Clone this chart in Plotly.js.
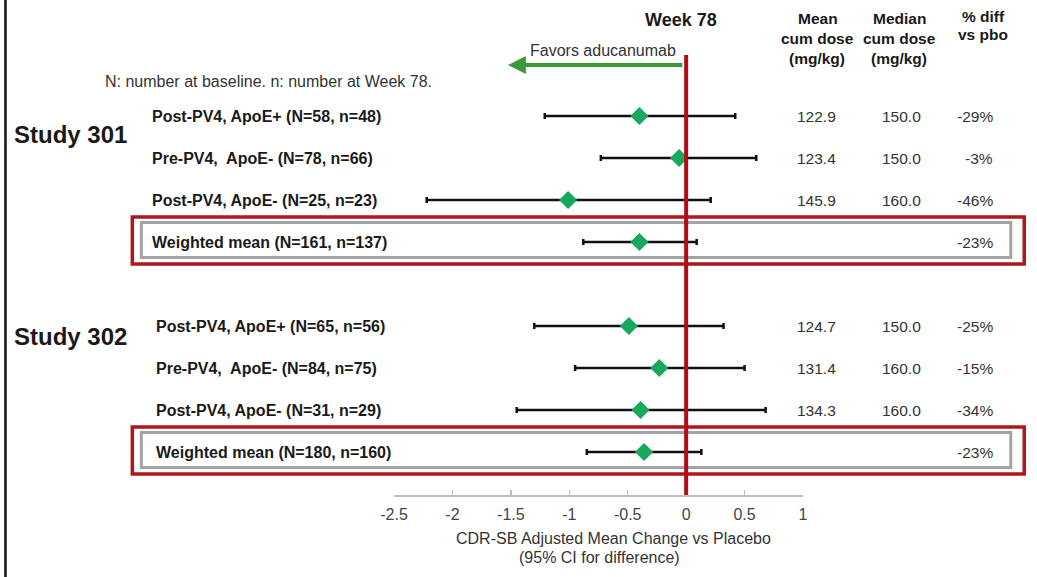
<!DOCTYPE html>
<html>
<head>
<meta charset="utf-8">
<script src="https://cdn.plot.ly/plotly-3.0.1.min.js"></script>
<style>html,body{margin:0;padding:0;background:#fff;}#chart{width:1037px;height:577px;}</style>
</head>
<body>
<div id="chart"></div>
<script>
// ---------------- data ----------------
const studies = ['Study 301', 'Study 302'];
const rowLabels301 = ['Post-PV4, ApoE+ (N=58, n=48)', 'Pre-PV4,\u00a0 ApoE- (N=78, n=66)', 'Post-PV4, ApoE- (N=25, n=23)', 'Weighted mean (N=161, n=137)'];
const rowLabels302 = ['Post-PV4, ApoE+ (N=65, n=56)', 'Pre-PV4,\u00a0 ApoE- (N=84, n=75)', 'Post-PV4, ApoE- (N=31, n=29)', 'Weighted mean (N=180, n=160)'];
const estimate301 = [-0.40, -0.06, -1.01, -0.40];
const estimate302 = [-0.49, -0.23, -0.39, -0.36];
const ciLow301 = [-1.21, -0.73, -2.22, -0.88];
const ciLow302 = [-1.30, -0.95, -1.45, -0.85];
const ciHigh301 = [0.42, 0.60, 0.21, 0.09];
const ciHigh302 = [0.32, 0.50, 0.68, 0.13];
const meanDose301 = ['122.9', '123.4', '145.9', ''];
const meanDose302 = ['124.7', '131.4', '134.3', ''];
const medianDose301 = ['150.0', '150.0', '160.0', ''];
const medianDose302 = ['150.0', '160.0', '160.0', ''];
const pctDiff301 = ['-29%', '-3%', '-46%', '-23%'];
const pctDiff302 = ['-25%', '-15%', '-34%', '-23%'];
const xTickVals = [-2.5, -2, -1.5, -1, -0.5, 0, 0.5, 1];
const xTickText = ['-2.5', '-2', '-1.5', '-1', '-0.5', '0', '0.5', '1'];
const xTitle1 = 'CDR-SB Adjusted Mean Change vs Placebo';
const xTitle2 = '(95% CI for difference)';

// ---------------- layout helpers ----------------
const W = 1037, H = 577;
const L = 394, R = 803.5, T = 56, B = 495;
const px = p => (p - L) / (R - L);
const py = p => (B - p) / (B - T);
const FONT = 'Arial, "Liberation Sans", sans-serif';
const rowStep = 42, row0 = 116;

const groupLabels = [rowLabels301, rowLabels302];
const groupEst = [estimate301, estimate302];
const groupLo = [ciLow301, ciLow302];
const groupHi = [ciHigh301, ciHigh302];
const groupMean = [meanDose301, meanDose302];
const groupMedian = [medianDose301, medianDose302];
const groupPct = [pctDiff301, pctDiff302];
const labelX = [150, 154];

const xs = [], ys = [], ep = [], em = [];
const annotations = [];
const shapes = [];

groupEst.forEach((est, g) => {
  est.forEach((v, i) => {
    const pos = g * 5 + i;
    xs.push(v); ys.push(pos);
    ep.push(groupHi[g][i] - v);
    em.push(v - groupLo[g][i]);
    annotations.push({xref: 'paper', yref: 'y', x: px(labelX[g]), y: pos, xanchor: 'left', yanchor: 'middle',
      text: '<b>' + groupLabels[g][i] + '</b>', showarrow: false, font: {family: FONT, size: 16, color: '#1a1a1a'}});
    if (groupMean[g][i]) annotations.push({xref: 'paper', yref: 'y', x: px(817), y: pos, xanchor: 'center', yanchor: 'middle',
      text: groupMean[g][i], showarrow: false, font: {family: FONT, size: 15.5, color: '#333'}});
    if (groupMedian[g][i]) annotations.push({xref: 'paper', yref: 'y', x: px(902), y: pos, xanchor: 'center', yanchor: 'middle',
      text: groupMedian[g][i], showarrow: false, font: {family: FONT, size: 15.5, color: '#333'}});
    annotations.push({xref: 'paper', yref: 'y', x: px(996), y: pos, xanchor: 'right', yanchor: 'middle',
      text: groupPct[g][i], showarrow: false, font: {family: FONT, size: 15.5, color: '#333'}});
    if (i === est.length - 1) {
      const yc = row0 + pos * rowStep;
      shapes.push({type: 'rect', xref: 'paper', yref: 'paper', x0: px(132), x1: px(1025), y0: py(yc - 25), y1: py(yc + 22),
        line: {color: '#b0161b', width: 3.5}, fillcolor: 'rgba(0,0,0,0)'});
      shapes.push({type: 'rect', xref: 'paper', yref: 'paper', x0: px(141), x1: px(1011.5), y0: py(yc - 19.5), y1: py(yc + 15.5),
        line: {color: '#a3a3a3', width: 3}, fillcolor: 'rgba(0,0,0,0)'});
    }
  });
  annotations.push({xref: 'paper', yref: 'y', x: px(12), y: g * 5 + (g === 0 ? 0.45 : 0.24), xanchor: 'left', yanchor: 'middle',
    text: '<b>' + studies[g] + '</b>', showarrow: false, font: {family: FONT, size: 24, color: '#1a1a1a'}});
});

// header texts
const hdr = (text, x, y, size, anchor) => annotations.push({xref: 'paper', yref: 'paper', x: px(x), y: py(y),
  xanchor: anchor || 'center', yanchor: 'middle', text: text, showarrow: false, font: {family: FONT, size: size, color: '#1a1a1a'}});
hdr('<b>Week 78</b>', 681, 20, 18);
hdr('<b>Mean</b>', 819, 18, 15.5);
hdr('<b>cum dose</b>', 818, 38, 15.5);
hdr('<b>(mg/kg)</b>', 818, 58, 15.5);
hdr('<b>Median</b>', 900, 18, 15.5);
hdr('<b>cum dose</b>', 900, 38, 15.5);
hdr('<b>(mg/kg)</b>', 900, 58, 15.5);
hdr('<b>% diff</b>', 984, 16, 15.5);
hdr('<b>vs pbo</b>', 984, 35, 15.5);
annotations.push({xref: 'paper', yref: 'paper', x: px(603), y: py(50), xanchor: 'center', yanchor: 'middle',
  text: 'Favors aducanumab', showarrow: false, font: {family: FONT, size: 16, color: '#333'}});
annotations.push({xref: 'paper', yref: 'paper', x: px(268), y: py(81), xanchor: 'center', yanchor: 'middle',
  text: 'N: number at baseline. n: number at Week 78.', showarrow: false, font: {family: FONT, size: 16, color: '#333'}});
annotations.push({xref: 'paper', yref: 'paper', x: px(614), y: py(538), xanchor: 'center', yanchor: 'middle',
  text: xTitle1, showarrow: false, font: {family: FONT, size: 16, color: '#333'}});
annotations.push({xref: 'paper', yref: 'paper', x: px(600), y: py(557), xanchor: 'center', yanchor: 'middle',
  text: xTitle2, showarrow: false, font: {family: FONT, size: 16, color: '#333'}});
// favours arrow
annotations.push({xref: 'paper', yref: 'paper', x: px(508), y: py(65), ax: 176, ay: 0, text: '', showarrow: true,
  arrowhead: 2, arrowsize: 0.9, arrowwidth: 4, arrowcolor: '#3a9a3a', standoff: 0, startstandoff: 0});

// left frame line
shapes.push({type: 'line', xref: 'paper', yref: 'paper', x0: px(5), x1: px(5), y0: py(0), y1: py(577),
  line: {color: '#111', width: 2.5}});
// zero line
shapes.push({type: 'line', xref: 'x', yref: 'paper', x0: 0, x1: 0, y0: 0, y1: py(55),
  line: {color: '#b10e14', width: 4}, layer: 'above'});

const trace = {
  type: 'scatter', mode: 'markers', x: xs, y: ys,
  error_x: {type: 'data', symmetric: false, array: ep, arrayminus: em, color: '#111', thickness: 2.5, width: 3},
  marker: {symbol: 'diamond', size: 14, color: '#17a95c', line: {width: 0}},
  hoverinfo: 'skip', cliponaxis: false
};

const layout = {
  width: W, height: H,
  margin: {l: L, r: W - R, t: T, b: H - B, pad: 0},
  paper_bgcolor: '#fff', plot_bgcolor: '#fff',
  showlegend: false,
  font: {family: FONT},
  xaxis: {range: [-2.5, 1], tickvals: xTickVals, ticktext: xTickText, showgrid: false, zeroline: false,
    showline: true, linecolor: '#bdbdbd', linewidth: 1.5, ticks: 'inside', ticklen: 5, tickcolor: '#bdbdbd', tickwidth: 1.5,
    tickfont: {family: FONT, size: 16, color: '#444'}, ticklabelstandoff: 4, fixedrange: true},
  yaxis: {range: [(B - row0) / rowStep, (T - row0) / rowStep], visible: false, showgrid: false, zeroline: false, fixedrange: true},
  annotations: annotations,
  shapes: shapes
};

Plotly.newPlot('chart', [trace], layout, {staticPlot: true, displayModeBar: false});
</script>
</body>
</html>
